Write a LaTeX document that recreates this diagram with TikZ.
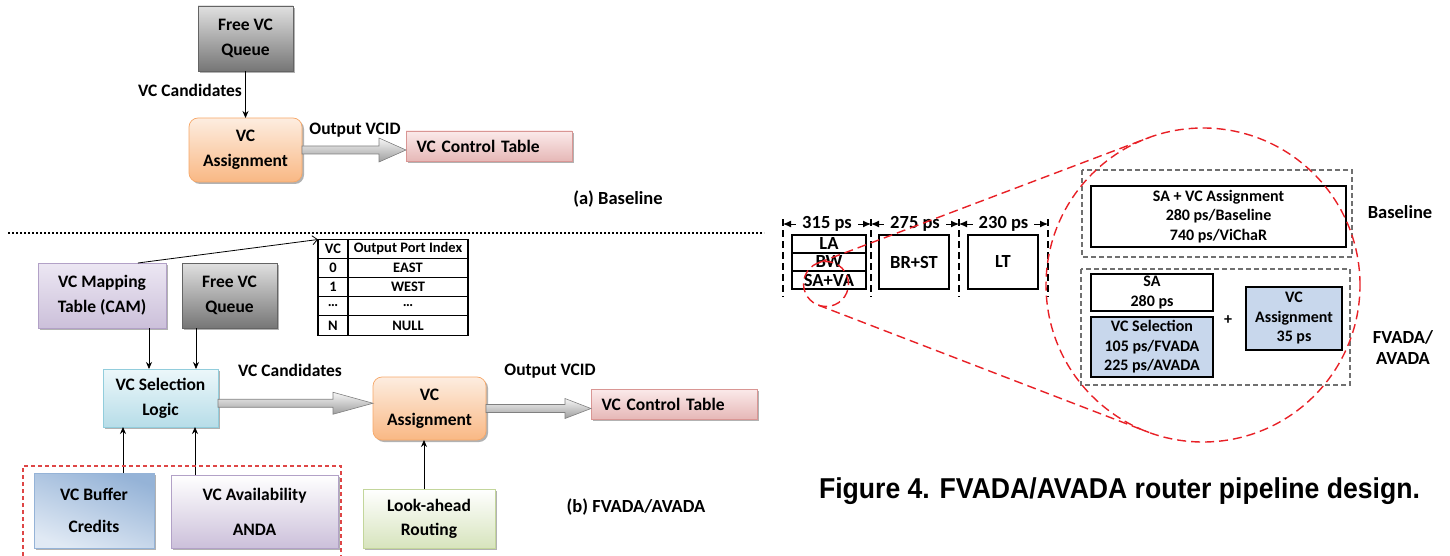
\documentclass[tikz,border=0pt]{standalone}
\usepackage{fontspec}
\usepackage{graphicx}
\setmainfont{Carlito}
\newfontfamily\capfont{Liberation Sans}
\usetikzlibrary{arrows.meta,calc,shadows}

% box fills (top / bottom / edge)
\definecolor{grayT}{RGB}{224,224,224}
\definecolor{grayB}{RGB}{118,118,118}
\definecolor{grayE}{RGB}{100,100,100}
\definecolor{orT}{RGB}{253,237,224}
\definecolor{orB}{RGB}{249,184,132}
\definecolor{orE}{RGB}{246,168,105}
\definecolor{pkT}{RGB}{251,234,234}
\definecolor{pkB}{RGB}{230,184,183}
\definecolor{pkE}{RGB}{217,150,148}
\definecolor{puT}{RGB}{236,231,243}
\definecolor{puB}{RGB}{204,192,218}
\definecolor{puE}{RGB}{178,161,199}
\definecolor{cyT}{RGB}{236,247,250}
\definecolor{cyB}{RGB}{183,221,232}
\definecolor{cyE}{RGB}{146,205,220}
\definecolor{blT}{RGB}{224,233,244}
\definecolor{blB}{RGB}{149,179,215}
\definecolor{grB}{RGB}{215,228,189}
\definecolor{grE}{RGB}{195,214,155}
\definecolor{arT}{RGB}{246,246,246}
\definecolor{arB}{RGB}{158,158,158}
\definecolor{arE}{RGB}{128,128,128}
\definecolor{selBlue}{RGB}{200,215,236}
\definecolor{ringRed}{RGB}{232,32,38}
\definecolor{frameRed}{RGB}{222,70,70}
\definecolor{dashGray}{RGB}{112,112,112}

% wide hollow arrow: start, tip, head length, head half-width
\newcommand\fatarrow[4]{%
  \path[draw=arE, line width=0.6pt, top color=arT, bottom color=arB]
    let \p1=#1, \p2=#2 in
    (\x1,\y1+4pt) -- (\x2-#3,\y1+4pt) -- (\x2-#3,\y1+#4) -- (\x2,\y1)
    -- (\x2-#3,\y1-#4) -- (\x2-#3,\y1-4pt) -- (\x1,\y1-4pt) -- cycle;}

\begin{document}
\begin{tikzpicture}[x=1pt,y=-1pt,
  every node/.style={inner sep=0pt, outer sep=0pt},
  base/.style={font=\bfseries\fontsize{17.5}{25}\selectfont, align=center},
  caplabel/.style={font=\bfseries\fontsize{18.5}{22}\selectfont, align=center},
  officebox/.style={base, draw, line width=0.7pt,
    general shadow={fill=black!30, shadow xshift=2pt, shadow yshift=-2pt}},
  graybox/.style={officebox, draw=grayE, top color=grayT, bottom color=grayB},
  orbox/.style={officebox, draw=orE, top color=orT, bottom color=orB, rounded corners=9pt},
  pkbox/.style={officebox, draw=pkE, top color=pkT, bottom color=pkB},
  pubox/.style={officebox, draw=puE, top color=puT, bottom color=puB},
  avbox/.style={officebox, draw=puE, top color=white, bottom color=puB},
  cybox/.style={officebox, draw=cyE, top color=cyT, bottom color=cyB},
  blbox/.style={officebox, draw=blB, top color=blT, bottom color=blB, shading angle=160},
  grbox/.style={officebox, draw=grE, top color=white, bottom color=grB},
  thinarr/.style={line width=0.8pt, -{Stealth[length=7pt,width=6pt]}},
  tabtext/.style={font=\bfseries\fontsize{14.5}{16}\selectfont},
  stage/.style={draw, line width=1.2pt, font=\bfseries\fontsize{18.5}{20}\selectfont, align=center},
  part/.style={draw, line width=1.2pt, font=\bfseries\fontsize{16}{19.5}\selectfont, align=center},
  grayframe/.style={draw=dashGray, line width=1.2pt, dash pattern=on 5pt off 3pt},
  ringline/.style={draw=ringRed, line width=1.4pt, dash pattern=on 9pt off 5pt},
  dimarr/.style={line width=1pt, {Latex[length=8pt,width=7pt]}-{Latex[length=8pt,width=7pt]}},
  dimlabel/.style={fill=white, inner xsep=6pt, inner ysep=2pt, font=\bfseries\fontsize{18.5}{20}\selectfont},
]
\useasboundingbox (0,0) rectangle (1450,556);

% ---------------- (a) baseline VC allocation ----------------
\node[graybox, minimum width=95pt, minimum height=65pt] (fq1) at (245.5,38.5) {Free VC\\Queue};
\node[orbox, minimum width=113pt, minimum height=64pt] (va1) at (245.5,150) {VC\\Assignment};
\node[pkbox, minimum width=166pt, minimum height=30pt, text width=145pt, align=left] (ct1) at (489,146) {VC Control Table};
\draw[thinarr] (fq1) -- (va1);
\node[base] (lc1) at (190,90) {VC Candidates};
\node[base] (lo1) at (355,130) {Output VCID};
\fatarrow{(va1.east)}{(va1.east -| ct1.west)}{27pt}{12pt}
\node[caplabel] (capa) at (618,199) {(a) Baseline};

% separator
\coordinate (sepL) at (8,233);
\coordinate (sepR) at (764,233);
\draw[line width=2pt, dash pattern=on 2pt off 2pt] (sepL) -- (sepR);

% ---------------- (b) FVADA / AVADA ----------------
\node[pubox, minimum width=128pt, minimum height=65pt] (map) at (102,295.5) {VC Mapping\\Table (CAM)};
\node[graybox, minimum width=95pt, minimum height=65pt] (fq2) at (229.5,295.5) {Free VC\\Queue};
\node[cybox, minimum width=115pt, minimum height=58pt] (sel) at (160.5,398) {VC Selection\\Logic};

% VC-to-output-port table
\node[draw, line width=1.8pt, minimum width=150pt, minimum height=96pt] (tbl) at (393,287.5) {};
\draw[line width=1.8pt] (tbl.north west) ++(30,0) -- ++(0,96);
\foreach \r in {19,38,57,76}
  \draw[line width=1.8pt] (tbl.north west) ++(0,\r) -- ++(150,0);
\node[tabtext] at (333,248.5) {VC};
\node[tabtext] at (408,248.5) {Output Port Index};
\node[tabtext] at (333,267.5) {0};
\node[tabtext] at (408,267.5) {EAST};
\node[tabtext] at (333,286.5) {1};
\node[tabtext] at (408,286.5) {WEST};
\node[tabtext] at (333,305.5) {…};
\node[tabtext] at (408,305.5) {…};
\node[tabtext] at (333,325.5) {N};
\node[tabtext] at (408,325.5) {NULL};
\draw[line width=0.8pt, -{Straight Barb[length=5pt,width=9pt]}]
  ($(map.north)!0.56!(map.north east)$) -- (tbl.north west);

\draw[thinarr] ($(map.south east)+(-17,0)$) coordinate (m1) -- (m1 |- sel.north);
\draw[thinarr] ($(fq2.south west)+(14,0)$) coordinate (m2) -- (m2 |- sel.north);

\node[orbox, minimum width=113pt, minimum height=63pt] (va2) at (429.5,408.5) {VC\\Assignment};
\node[pkbox, minimum width=166pt, minimum height=30pt, text width=145pt, align=left] (ct2) at (674,404) {VC Control Table};
\node[base] (lc2) at (290,370) {VC Candidates};
\node[base] (lo2) at (550,371) {Output VCID};
\coordinate (selout) at ($(sel.east)!.5!(sel.east |- va2.west)$);
\coordinate (vain) at (selout -| va2.west);
\fatarrow{(selout)}{(vain)}{40pt}{11pt}
\coordinate (vaout) at (va2.east);
\coordinate (ctin) at (vaout -| ct2.west);
\fatarrow{(vaout)}{(ctin)}{26pt}{10pt}

\node[grbox, minimum width=132pt, minimum height=59pt, font=\bfseries\fontsize{17.5}{24}\selectfont] (la) at (429,518.5) {Look-ahead\\Routing};
\draw[thinarr] ($(la.north)+(-5,0)$) coordinate (l1) -- (l1 |- va2.south);

\node[blbox, minimum width=120pt, minimum height=75pt] (buf) at (94,510.5) {VC Buffer\\[7pt]Credits};
\node[avbox, minimum width=167pt, minimum height=73pt] (av) at (254.5,511.5) {VC Availability\\[10pt]ANDA};
\draw[thinarr] ($(buf.north)+(29,0)$) coordinate (b1) -- (b1 |- sel.south);
\draw[thinarr] ($(av.north west)+(24,0)$) coordinate (b2) -- (b2 |- sel.south);
\draw[frameRed, line width=1.1pt, dash pattern=on 4pt off 3pt] (23,556) -- (23,466) -- (341,466) -- (341,556);
\node[caplabel] (capb) at (636,507) {(b) FVADA/AVADA};

% ---------------- router pipeline ----------------
\foreach \n/\x in {0/783,1/871,2/959,3/1048}
  \coordinate (v\n) at (\x,224);
\foreach \n in {0,...,3}
  \draw[line width=1.3pt, dash pattern=on 7pt off 4pt] ($(v\n)+(0,-5)$) -- ($(v\n)+(0,73)$);
\draw[dimarr] (v0) -- (v1) node[midway, dimlabel] {315 ps};
\draw[dimarr] (v1) -- (v2) node[midway, dimlabel] {275 ps};
\draw[dimarr] (v2) -- (v3) node[midway, dimlabel] {230 ps};

\node[stage, minimum width=74pt, minimum height=18pt] (sLA) at (829,244) {LA};
\node[stage, minimum width=74pt, minimum height=18pt] (sBW) at (829,262) {BW};
\node[stage, minimum width=74pt, minimum height=18pt] (sSA) at (829,280) {SA+VA};
\node[stage, minimum width=70pt, minimum height=54pt] (sBR) at (914,262) {BR+ST};
\node[stage, minimum width=70pt, minimum height=54pt] (sLT) at (1003,262) {LT};

% stage breakdown
\draw[grayframe] (1082,170) rectangle (1352,257);
\node[part, minimum width=255pt, minimum height=61pt] (pBase) at (1218.5,216.5) {SA + VC Assignment\\280 ps/Baseline\\740 ps/ViChaR};
\node[caplabel] (lBase) at (1400,212) {Baseline};
\draw[grayframe] (1081,269) rectangle (1350,385);
\node[part, minimum width=122pt, minimum height=37pt] (pSA) at (1152,292.5) {SA\\280 ps};
\node[part, fill=selBlue, minimum width=122pt, minimum height=60pt] (pSel) at (1152,347) {VC Selection\\105 ps/FVADA\\225 ps/AVADA};
\node[part, draw=none] (plus) at (1228,320) {+};
\node[part, fill=selBlue, minimum width=96pt, minimum height=63pt] (pVA) at (1294,318.5) {VC\\Assignment\\35 ps};
\node[caplabel, font=\bfseries\fontsize{18.5}{21}\selectfont] (lFv) at (1403,348) {FVADA/\\AVADA};

% magnifier rings and their tangents
\node[circle, minimum size=314pt, ringline] (bigring) at (1203,285) {};
\node[circle, minimum size=45pt, ringline] (smallring) at (826,284) {};
\draw[ringline] (smallring.110) -- (bigring.110);
\draw[ringline] (smallring.250) -- (bigring.250);

\node[font=\capfont\bfseries\fontsize{26.6}{30}\selectfont] (caption) at (1119.5,491)
  {\scalebox{1}[1.08]{Figure 4. FVADA/AVADA router pipeline design.}};
\end{tikzpicture}
\end{document}
